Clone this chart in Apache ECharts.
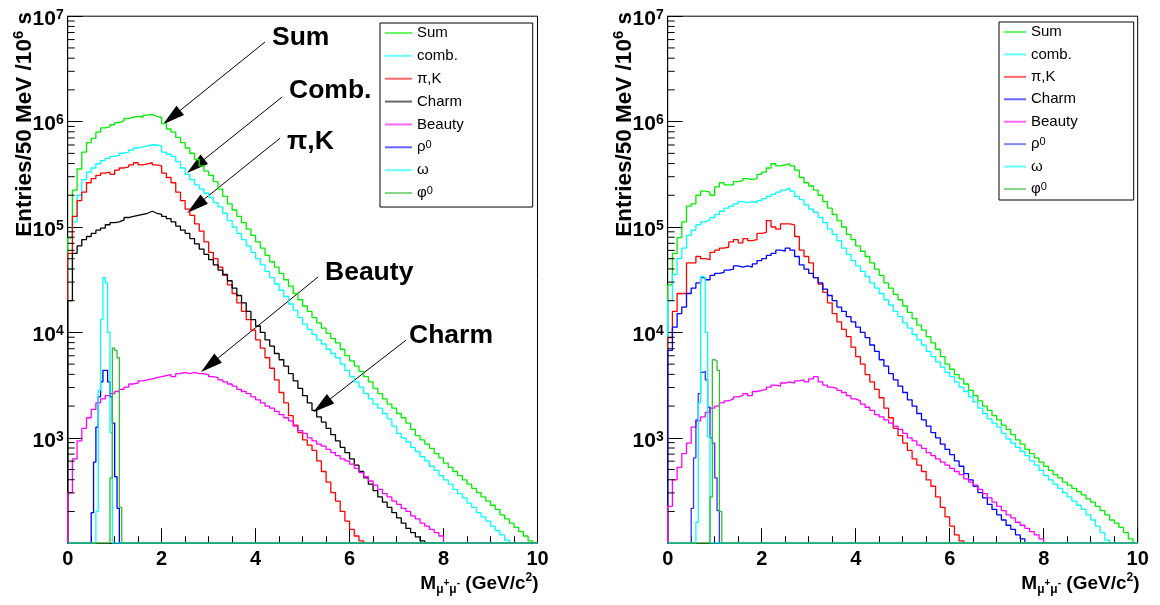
<!DOCTYPE html>
<html><head><meta charset="utf-8">
<script src="https://cdn.jsdelivr.net/npm/echarts@6/dist/echarts.min.js"></script>
<style>html,body{margin:0;padding:0;background:#fff}#c{width:1160px;height:605px}</style>
</head><body><div id="c"></div>
<script>
// ---------- binning / axis ranges ----------
const BIN = 0.1;          // main histograms (read at 100 MeV resolution)
const RES_BIN = 0.05;     // resonances (50 MeV bins)
const X_MAX = 10;
const Y_MIN = 100, Y_MAX = 1e7;
const xTickInterval = 2;
const minorTickValues = [200,300,400,500,600,700,800,900,
  2000,3000,4000,5000,6000,7000,8000,9000,
  20000,30000,40000,50000,60000,70000,80000,90000,
  200000,300000,400000,500000,600000,700000,800000,900000,
  2000000,3000000,4000000,5000000,6000000,7000000,8000000,9000000];

// ---------- LEFT panel (entries per bin, bins start at 0) ----------
const leftSum = [7.9e4,2.24e5,3.55e5,5.13e5,6.31e5,6.92e5,7.94e5,8.71e5,8.91e5,9.33e5,
 9.77e5,1.02e6,1.07e6,1.10e6,1.12e6,1.10e6,1.15e6,1.17e6,1.12e6,1.10e6,
 9.55e5,8.51e5,7.94e5,7.08e5,6.31e5,5.62e5,5.01e5,4.37e5,3.80e5,3.39e5,
 3.09e5,2.69e5,2.29e5,1.95e5,1.66e5,1.45e5,1.26e5,1.10e5,9.55e4,8.32e4,
 7.24e4,6.31e4,5.37e4,4.68e4,4.17e4,3.63e4,3.16e4,2.75e4,2.34e4,2.04e4,
 1.78e4,1.58e4,1.38e4,1.23e4,1.10e4,9770,8710,7940,6920,6030,
 5370,4790,4270,3800,3390,2950,2630,2340,2090,1910,
 1700,1550,1380,1200,1050,955,871,794,708,646,
 575,525,479,437,398,363,331,302,275,251,
 229,209,186,170,155,141,129,117,105];
const leftComb = [3.98e4,1.12e5,2.00e5,2.82e5,3.31e5,3.63e5,3.98e5,4.27e5,4.47e5,4.68e5,
 4.79e5,5.01e5,5.13e5,5.37e5,5.62e5,5.75e5,5.89e5,6.03e5,6.00e5,5.89e5,
 5.13e5,4.90e5,4.68e5,4.17e5,3.63e5,3.16e5,2.82e5,2.51e5,2.29e5,2.09e5,
 1.91e5,1.70e5,1.55e5,1.35e5,1.15e5,1.00e5,8.71e4,7.59e4,6.61e4,5.75e4,
 5.01e4,4.37e4,3.80e4,3.31e4,2.88e4,2.51e4,2.19e4,1.86e4,1.62e4,1.38e4,
 1.20e4,1.07e4,9550,8510,7760,6920,6310,5750,5010,4370,
 3800,3390,3020,2630,2340,2090,1910,1700,1510,1290,
 1100,1000,912,813,741,661,603,537,490,437,
 398,363,324,295,269,240,219,195,178,162,
 145,132,120,107];
const leftPiK = [5.62e4,1.26e5,1.78e5,2.14e5,2.63e5,2.88e5,3.09e5,3.24e5,3.31e5,3.16e5,
 3.47e5,3.63e5,3.72e5,3.89e5,4.07e5,3.89e5,3.98e5,4.07e5,3.89e5,3.80e5,
 3.24e5,2.95e5,2.63e5,2.14e5,1.78e5,1.48e5,1.29e5,1.07e5,9.12e4,7.24e4,
 5.75e4,5.01e4,4.17e4,3.47e4,2.82e4,2.34e4,1.91e4,1.58e4,1.32e4,1.05e4,
 8510,7080,5750,4570,3550,2690,2140,1620,1320,1120,
 955,851,759,603,479,380,302,251,200,162,
 135,117,105];
const leftCharm = [2.00e4,5.62e4,6.61e4,7.59e4,8.13e4,8.71e4,9.33e4,9.77e4,1.05e5,1.10e5,
 1.12e5,1.17e5,1.23e5,1.26e5,1.29e5,1.32e5,1.35e5,1.41e5,1.35e5,1.32e5,
 1.26e5,1.20e5,1.12e5,1.02e5,9.33e4,8.71e4,7.76e4,6.92e4,6.17e4,5.50e4,
 4.90e4,4.37e4,3.89e4,3.55e4,3.09e4,2.63e4,2.24e4,1.91e4,1.58e4,1.32e4,
 1.15e4,1.00e4,8510,7410,6310,5500,4790,4070,3470,2950,
 2510,2140,1820,1580,1410,1230,1070,933,813,724,
 631,550,479,417,363,316,275,245,219,195,
 174,155,138,126,115,105];
const leftBeauty = [302,631,933,1230,1550,1860,2140,2340,2510,2630,
 2750,2880,3020,3240,3310,3470,3550,3630,3720,3800,
 3890,3980,3800,4070,4170,4070,4170,4070,4070,3980,
 3800,3720,3550,3390,3240,3090,2880,2750,2630,2450,
 2290,2140,2000,1910,1780,1660,1550,1450,1290,1170,
 1100,1000,933,871,832,776,724,676,631,603,
 562,513,468,427,389,355,324,295,275,251,
 234,214,200,182,170,155,145,135,126,117];
const leftRhoStart = 0.50;
const leftRho = [195,589,1260,2450,3390,4370,4370,3390,2450,1380,427,214];
const leftOmegaStart = 0.60;
const leftOmega = [200,2820,13200,33100,29500,10000,1120];
const leftPhiStart = 0.90;
const leftPhi = [417,7080,6760,5750,219];

// ---------- RIGHT panel ----------
const rightSum = [2.82e4,5.62e4,7.94e4,1.12e5,1.58e5,1.66e5,2.00e5,2.19e5,2.14e5,2.00e5,
 2.40e5,2.63e5,2.51e5,2.51e5,2.69e5,2.75e5,2.88e5,2.82e5,2.88e5,3.16e5,
 3.31e5,3.63e5,3.98e5,3.80e5,3.89e5,3.98e5,3.80e5,3.47e5,2.95e5,2.63e5,
 2.45e5,2.24e5,2.00e5,1.74e5,1.51e5,1.32e5,1.15e5,1.00e5,8.51e4,7.59e4,
 6.61e4,5.89e4,5.25e4,4.57e4,3.98e4,3.47e4,2.95e4,2.63e4,2.29e4,2.04e4,
 1.78e4,1.55e4,1.35e4,1.17e4,1.05e4,9120,7940,6920,5890,5010,
 4470,3980,3630,3240,2820,2510,2240,2000,1820,1620,
 1480,1320,1200,1070,955,871,776,708,646,589,
 537,490,447,417,380,355,331,309,288,263,
 245,224,204,186,166,155,141,126,110];
const rightComb = [2.00e4,3.55e4,5.01e4,6.31e4,8.32e4,9.33e4,1.05e5,1.12e5,1.17e5,1.23e5,
 1.32e5,1.41e5,1.51e5,1.58e5,1.66e5,1.74e5,1.70e5,1.74e5,1.70e5,1.78e5,
 1.86e5,1.95e5,2.04e5,2.14e5,2.24e5,2.34e5,2.19e5,1.95e5,1.82e5,1.62e5,
 1.48e5,1.38e5,1.23e5,1.10e5,9.55e4,8.51e4,7.41e4,6.31e4,5.50e4,4.79e4,
 4.27e4,3.80e4,3.39e4,2.95e4,2.63e4,2.34e4,2.04e4,1.82e4,1.58e4,1.41e4,
 1.23e4,1.10e4,9550,8510,7590,6610,5890,5250,4680,4170,
 3800,3390,3020,2750,2450,2190,1910,1700,1510,1380,
 1260,1100,977,891,813,741,676,603,550,490,
 437,398,363,331,302,275,251,229,209,186,
 166,145,126,107];
const rightPiK = [8910,1.58e4,2.34e4,2.34e4,4.57e4,4.57e4,5.25e4,5.01e4,4.90e4,5.75e4,
 6.03e4,6.31e4,6.46e4,7.24e4,7.59e4,7.08e4,7.76e4,7.41e4,7.59e4,8.71e4,
 8.91e4,1.15e5,1.00e5,9.55e4,1.07e5,1.07e5,1.05e5,8.13e4,6.03e4,5.25e4,
 4.57e4,3.31e4,2.88e4,2.40e4,1.91e4,1.51e4,1.26e4,1.07e4,9120,7240,
 5890,5010,3980,3390,2880,2400,1910,1550,1230,1050,
 891,759,631,550,479,398,347,275,219,178,
 145,120,105];
const rightCharm = [6760,1.12e4,1.51e4,1.74e4,2.34e4,2.63e4,2.95e4,3.31e4,3.16e4,3.47e4,
 3.63e4,3.72e4,3.89e4,3.98e4,4.27e4,4.17e4,4.27e4,4.17e4,4.47e4,4.79e4,
 5.01e4,5.37e4,5.62e4,6.03e4,5.89e4,6.31e4,6.03e4,5.25e4,4.37e4,3.98e4,
 3.63e4,3.31e4,2.95e4,2.57e4,2.24e4,2.00e4,1.74e4,1.58e4,1.41e4,1.26e4,
 1.12e4,1.00e4,8910,7590,6610,5500,4790,4070,3550,3090,
 2690,2290,2000,1700,1480,1290,1120,1000,871,776,
 692,603,537,457,398,347,302,269,234,209,
 186,166,148,135,120,110];
const rightBeauty = [224,398,525,708,891,1260,1450,1580,1740,1910,
 2000,2140,2240,2340,2450,2510,2630,2510,2750,2820,
 2880,3020,3160,3090,3310,3390,3310,3470,3550,3390,
 3630,3800,3390,3160,3020,2950,2820,2690,2510,2340,
 2240,2090,1950,1820,1660,1580,1480,1380,1290,1200,
 1100,1000,933,851,794,724,676,631,589,550,
 513,479,447,407,380,355,324,295,269,245,
 224,204,186,174,158,148,138,129,120,110];
const rightRhoStart = 0.50;
const rightRho = [214,646,1480,2630,4170,4270,3550,1950,1000,891,417,204];
const rightOmegaStart = 0.60;
const rightOmega = [158,2140,33900,33100,10000,1020];
const rightPhiStart = 0.90;
const rightPhi = [275,5500,5370,4370,200];

// legend labels and colours
const seriesLabels = ['Sum','comb.','π,K','Charm','Beauty','ρ0','ω','φ0'];
const leftColors  = ['#00ee00','#00ffff','#ff0000','#000000','#ff00ff','#0000ff','#00ffff','#33bb33'];
const rightColors = ['#00ee00','#00ffff','#ff0000','#0000ff','#ff00ff','#3333ff','#00ffff','#33bb33'];

// annotation arrows on the left panel (data coordinates: [mass, entries])
const annotationLabels = ['Sum','Comb.','π,K','Beauty','Charm'];
const annotationFrom = [[4.20,5.69e6],[4.564,1.71e6],[4.522,6.97e5],[5.33,3.36e4],[7.205,8.47e3]];
const annotationTo   = [[2.213,1.10e6],[2.724,3.78e5],[2.724,1.58e5],[3.02,4.9e3],[5.41,2.03e3]];

// ---------- build ----------
const FONT = '"Liberation Sans", Arial, Helvetica, sans-serif';
function r3(v){ return Math.round(v*1000)/1000; }
function histPoints(start, width, values){
  const pts = [[0, Y_MIN]];
  if (start > 0) pts.push([start, Y_MIN]);
  values.forEach((v,i)=>pts.push([r3(start+i*width), Math.max(v, Y_MIN)]));
  pts.push([r3(start+values.length*width), Y_MIN]);
  pts.push([X_MAX, Y_MIN]);
  return pts;
}
function histSeries(name, g, color, start, width, values, z){
  return {type:'line', name:name, xAxisIndex:g, yAxisIndex:g, step:'end', symbol:'none', showSymbol:false,
    color:color, itemStyle:{color:color}, lineStyle:{color:color, width:1.3}, data:histPoints(start,width,values),
    z:z, silent:true, animation:false, clip:true};
}
const panels = [
  {p:'L', colors:leftColors, main:[leftSum,leftComb,leftPiK,leftCharm,leftBeauty],
   res:[[leftRhoStart,leftRho],[leftOmegaStart,leftOmega],[leftPhiStart,leftPhi]]},
  {p:'R', colors:rightColors, main:[rightSum,rightComb,rightPiK,rightCharm,rightBeauty],
   res:[[rightRhoStart,rightRho],[rightOmegaStart,rightOmega],[rightPhiStart,rightPhi]]}
];
const series = [];
panels.forEach((pn,g)=>{
  pn.main.forEach((vals,i)=>series.push(histSeries(pn.p+'|'+seriesLabels[i], g, pn.colors[i], 0, BIN, vals, 10+i)));
  pn.res.forEach((rv,j)=>series.push(histSeries(pn.p+'|'+seriesLabels[5+j], g, pn.colors[5+j], rv[0], RES_BIN, rv[1], 20+j)));
  series.push({type:'custom', xAxisIndex:g, yAxisIndex:g, silent:true, z:30, animation:false, clip:false,
    data:minorTickValues.map(v=>[0,v]),
    renderItem:function(params, api){
      const p = api.coord([api.value(0), api.value(1)]);
      return {type:'line', shape:{x1:p[0], y1:p[1], x2:p[0]+7, y2:p[1]}, style:{stroke:'#000', lineWidth:1}};
    }});
});
// arrows
series[0].markLine = {silent:true, animation:false, symbol:['none','triangle'], symbolSize:[12,22],
  lineStyle:{color:'#000', width:1, type:'solid'}, label:{show:false},
  itemStyle:{color:'#000'},
  data: annotationFrom.map((f,i)=>[{coord:f},{coord:annotationTo[i]}])};

const grids = [
  {left:67.7, top:16.2, width:469.8, height:527, show:true, borderColor:'#000', borderWidth:1, backgroundColor:'transparent', outerBoundsMode:'none'},
  {left:667.7, top:16.2, width:470, height:527, show:true, borderColor:'#000', borderWidth:1, backgroundColor:'transparent', outerBoundsMode:'none'}
];
const xAxes = [0,1].map(g=>({type:'value', gridIndex:g, min:0, max:X_MAX, interval:xTickInterval,
  axisLine:{show:true, lineStyle:{color:'#000', width:1}},
  axisTick:{show:true, inside:true, length:15, lineStyle:{color:'#000'}},
  minorTick:{show:true, splitNumber:4, length:7, lineStyle:{color:'#000'}},
  splitLine:{show:false}, minorSplitLine:{show:false},
  axisLabel:{color:'#000', fontFamily:FONT, fontWeight:'bold', fontSize:20, margin:6, showMinLabel:true, showMaxLabel:true}}));
const yAxes = [0,1].map(g=>({type:'log', logBase:10, gridIndex:g, min:Y_MIN, max:Y_MAX,
  axisLine:{show:true, lineStyle:{color:'#000', width:1}},
  axisTick:{show:true, inside:true, length:15, lineStyle:{color:'#000'}},
  splitLine:{show:false}, minorTick:{show:false},
  axisLabel:{color:'#000', margin:4, padding:[6,0,0,0], showMinLabel:true, showMaxLabel:true,
    formatter:function(v){ const e=Math.round(Math.log10(v)); if(e<=2) return ''; return '{b|10}{s|'+e+'}'; },
    rich:{b:{fontFamily:FONT, fontWeight:'bold', fontSize:21, lineHeight:22, color:'#000'},
          s:{fontFamily:FONT, fontWeight:'bold', fontSize:14, lineHeight:8, verticalAlign:'top', color:'#000'}}}}));

function legendCfg(p, colors, left, top, itemWidth, gap, pad){
  return {orient:'vertical', left:left, top:top, itemWidth:itemWidth, itemHeight:2, itemGap:gap, icon:'rect',
    selectedMode:false, backgroundColor:'#fff', borderColor:'#000', borderWidth:1, padding:pad, z:40,
    data: seriesLabels.map((s,i)=>({name:p+'|'+s, icon:'rect', itemStyle:{color:colors[i], opacity:0.6}})),
    formatter:function(name){
      const s = name.split('|')[1];
      if (s==='ρ0') return '{t|ρ}{u|0}';
      if (s==='φ0') return '{t|φ}{u|0}';
      return '{t|'+s+'}';
    },
    textStyle:{color:'#000', fontFamily:FONT, fontSize:15,
      rich:{t:{fontFamily:FONT, fontSize:15, lineHeight:15, color:'#000'},
            u:{fontFamily:FONT, fontSize:11, lineHeight:4, verticalAlign:'top', color:'#000'}}}};
}

const yTitleRich = {t:{font:'bold 22.5px '+FONT, fill:'#000', lineHeight:26},
  sup:{font:'bold 15px '+FONT, fill:'#000', lineHeight:6, verticalAlign:'top'}};
const xTitleRich = {m:{font:'bold 19px '+FONT, fill:'#000', lineHeight:24},
  sub:{font:'bold 12px '+FONT, fill:'#000', lineHeight:8, verticalAlign:'bottom'},
  sp:{font:'bold 10px '+FONT, fill:'#000', lineHeight:10},
  sup:{font:'bold 12px '+FONT, fill:'#000', lineHeight:1, verticalAlign:'top'}};
function yTitle(x){ return {type:'text', x:x, y:12, rotation:Math.PI/2, z:50,
  style:{text:'{t|Entries/50 MeV /10}{sup|6}{t| s}', rich:yTitleRich, align:'right', verticalAlign:'middle', textAlign:'right', textVerticalAlign:'middle'}}; }
function xTitle(x){ return {type:'text', x:x, y:583.5, z:50,
  style:{text:'{m|M}{sub|μ}{sp|+}{sub|μ}{sp|-}{m| (GeV/c}{sup|2}{m|)}', rich:xTitleRich, align:'right', verticalAlign:'middle', textAlign:'right', textVerticalAlign:'middle'}}; }
const annPos = [[272,37.5],[289,91],[287,141.5],[325,272.5],[409,335.5]];
const graphics = [yTitle(24.5), yTitle(624.5), xTitle(538.5), xTitle(1139.5)];
annotationLabels.forEach((t,i)=>graphics.push({type:'text', x:annPos[i][0], y:annPos[i][1], z:50,
  style:{text:t, font:'bold 26.5px '+FONT, fill:'#000', align:'left', verticalAlign:'middle', textAlign:'left', textVerticalAlign:'middle'}}));

const chart = echarts.init(document.getElementById('c'), null, {renderer:'canvas'});
chart.setOption({
  animation:false, backgroundColor:'#fff',
  grid:grids, xAxis:xAxes, yAxis:yAxes,
  legend:[legendCfg('L', leftColors, 380, 23, 27, 7.86, [2.5,69,6.5,5]),
          legendCfg('R', rightColors, 999, 22, 22, 7.43, [2.5,56,3.5,5])],
  series:series,
  graphic:{elements:graphics}
});
</script></body></html>
